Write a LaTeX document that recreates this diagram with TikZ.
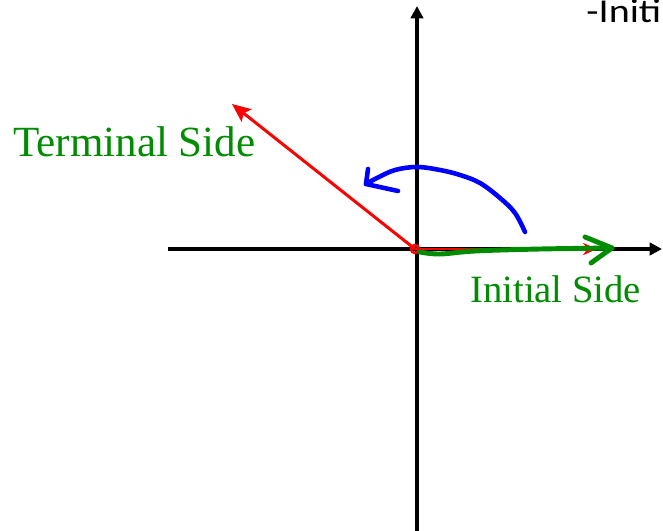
\documentclass[tikz,border=0pt]{standalone}
\usepackage{fontspec}
\setmainfont{Liberation Serif}
\newfontfamily\calfont{Carlito}
\usetikzlibrary{positioning, calc, arrows.meta}

\begin{document}
\begin{tikzpicture}[x=0.02cm, y=-0.02cm, >=Stealth,
    axis/.style={-{Triangle[length=7pt, width=7pt]}, line width=2.3pt, black},
    sidelabel/.style={text=green!55!black, inner sep=0pt, font=\fontsize{24.5}{28}\selectfont},
    pen/.style={line width=2.6pt, line cap=round, line join=round}]
    \useasboundingbox (0,0) rectangle (663,531);

    % Axes
    \coordinate (xL) at (168,249);
    \coordinate (xR) at (662,249);
    \coordinate (yB) at (417,531);
    \coordinate (yT) at (417,6);
    \draw[axis] (xL) -- (xR);
    \draw[axis] (yB) -- (yT);

    % Coordinates for the sides
    \coordinate (O) at (415,249);
    \coordinate (T) at (232,104);
    \coordinate (I) at (597,249);
    \coordinate (G) at (612,248);

    % Red sides (terminal and initial)
    \draw[-{Stealth[length=10.5pt, width=9pt, inset=2pt]}, line width=1.7pt, red] (O) -- (T);
    \draw[-{Stealth[length=8pt, width=7pt]}, line width=1.7pt, red] (O) -- (I);
    \draw[red, line width=1.5pt] (O) circle (4);

    % Green hand-drawn initial side
    \draw[pen, green!55!black, line width=2.8pt] plot[smooth, tension=0.6]
        coordinates {(420,252) (440,254) (475,251) (540,249) (G)};
    \draw[pen, green!55!black, line width=2.8pt] (585,237) -- (G) -- (591,263);

    % Blue hand-drawn rotation
    \coordinate (bS) at (525,232);
    \coordinate (bE) at (366,184);
    \draw[pen, blue] plot[smooth, tension=0.6]
        coordinates {(bS) (515,213) (500,198) (480,183) (460,175) (440,170) (417,167) (395,170) (377,178) (bE)};
    \draw[pen, blue] (368,169) -- (bE) -- (398,191);

    % Labels
    \node[sidelabel, anchor=base west] (term) at (13,156) {Terminal Side};
    \node[sidelabel, anchor=base west, font=\fontsize{22}{26}\selectfont] (init) at (470,302) {Initial Side};
    \node[anchor=base west, inner sep=0pt, xscale=1.2, font=\calfont\fontsize{19}{22}\selectfont] (top) at (586,22) {-Initi};

\end{tikzpicture}
\end{document}
